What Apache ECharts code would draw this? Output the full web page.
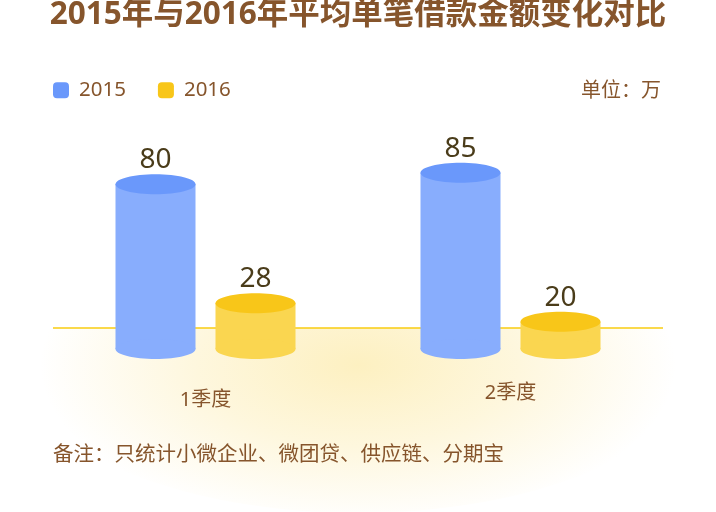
<!DOCTYPE html>
<html>
<head>
<meta charset="utf-8">
<script src="https://cdn.jsdelivr.net/npm/echarts@6/dist/echarts.min.js"></script>
<style>
html,body{margin:0;padding:0;background:#fff;}
#main{width:716px;height:512px;}
</style>
</head>
<body>
<div id="main"></div>
<script>
// ---- data ----
const categories = ['1季度', '2季度'];
const seriesNames = ['2015', '2016'];
const values2015 = [80, 85];
const values2016 = [28, 20];
const titleText = '2015年与2016年平均单笔借款金额变化对比';
const unitText = '单位：万';
const noteText = '备注：只统计小微企业、微团贷、供应链、分期宝';

// ---- style ----
const FONT = "'Noto Sans', 'Noto Sans CJK SC', sans-serif";
const BROWN = '#86552c';
const BAR_W = 80;
const RY = 10;
const BASE_LIFT = 18.5;
const blue = {body: '#88adfd', top: '#6a98fb'};
const yellow = {body: '#fad650', top: '#f8c619'};

function makeRenderer(offset, colors) {
  return function (params, api) {
    const idx = api.value(0);
    const v = api.value(1);
    const top = api.coord([idx, v]);
    const zero = api.coord([idx, 0]);
    const cx = top[0] + offset;
    const baseY = zero[1] - BASE_LIFT;
    const hw = BAR_W / 2;
    return {
      type: 'group',
      children: [
        {type: 'rect', shape: {x: cx - hw, y: top[1], width: BAR_W, height: baseY - top[1]}, style: {fill: colors.body}},
        {type: 'ellipse', shape: {cx: cx, cy: baseY, rx: hw, ry: RY}, style: {fill: colors.body}},
        {type: 'ellipse', shape: {cx: cx, cy: top[1], rx: hw, ry: RY}, style: {fill: colors.top}},
        {type: 'text', style: {text: String(v), x: cx, y: top[1] - RY, align: 'center', verticalAlign: 'bottom',
          fontSize: 28, fontFamily: FONT, fill: '#4a3c1a'}}
      ]
    };
  };
}

const chart = echarts.init(document.getElementById('main'));
chart.setOption({
  backgroundColor: '#ffffff',
  animation: false,
  title: {
    text: titleText, left: 'center', top: 0, padding: 0,
    textStyle: {fontSize: 31.5, fontWeight: 'bold', color: BROWN, fontFamily: FONT, lineHeight: 31}
  },
  legend: {
    left: 53, top: 80, padding: 0, itemWidth: 16, itemHeight: 16, itemGap: 32, icon: 'roundRect',
    data: seriesNames,
    textStyle: {fontSize: 20.5, color: BROWN, fontFamily: FONT, padding: [0, 0, 0, 5]}
  },
  grid: {left: 53, right: 53, top: 138.4, bottom: 144.5, containLabel: false},
  xAxis: {
    type: 'category', data: categories,
    axisLine: {show: false}, axisTick: {show: false}, splitLine: {show: false},
    axisLabel: {
      margin: 16, fontSize: 20, color: BROWN, fontFamily: FONT,
      formatter: function (val, i) { return i === 0 ? '{a|' + val + '}' : '{b|' + val + '}'; },
      rich: {
        a: {fontSize: 20, color: BROWN, fontFamily: FONT, padding: [7, 0, 0, 0]},
        b: {fontSize: 20, color: BROWN, fontFamily: FONT}
      }
    }
  },
  yAxis: {type: 'value', min: 0, max: 100, show: false, splitLine: {show: false}},
  graphic: [
    {
      type: 'sector', x: 358, y: 328, scaleX: 2, scaleY: 1, z: -10, silent: true,
      shape: {cx: 0, cy: 0, r: 185, startAngle: 0, endAngle: Math.PI, clockwise: true},
      style: {
        fill: new echarts.graphic.RadialGradient(0.5, 0.2, 0.86, [
          {offset: 0, color: 'rgba(250, 218, 100, 0.40)'},
          {offset: 0.5, color: 'rgba(250, 218, 100, 0.22)'},
          {offset: 1, color: 'rgba(250, 218, 100, 0)'}
        ])
      }
    },
    {
      type: 'line', z: -5, silent: true,
      shape: {x1: 53, y1: 328, x2: 663, y2: 328},
      style: {stroke: '#f8cc10', lineWidth: 1.5}
    },
    {
      type: 'text', right: 55, top: 81, z: 10,
      style: {text: unitText, fontSize: 20, fill: BROWN, fontFamily: FONT}
    },
    {
      type: 'text', left: 53, top: 445, z: 10,
      style: {text: noteText, fontSize: 20.5, fill: BROWN, fontFamily: FONT}
    }
  ],
  series: [
    {
      name: seriesNames[0], type: 'custom', itemStyle: {color: blue.top}, z: 5,
      data: values2015.map((v, i) => [i, v]),
      renderItem: makeRenderer(-50, blue)
    },
    {
      name: seriesNames[1], type: 'custom', itemStyle: {color: yellow.top}, z: 5,
      data: values2016.map((v, i) => [i, v]),
      renderItem: makeRenderer(50, yellow)
    }
  ]
});
</script>
</body>
</html>
